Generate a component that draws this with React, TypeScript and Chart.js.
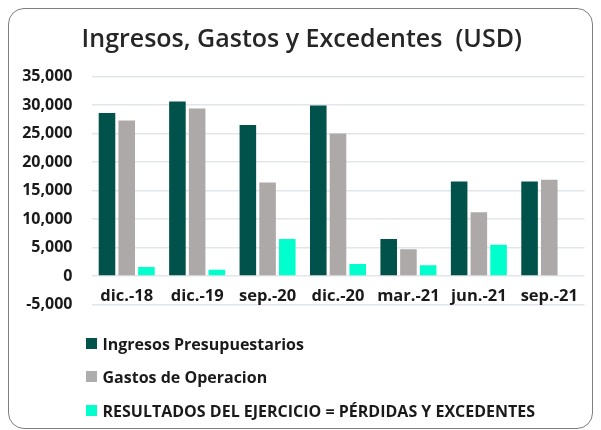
import React, { useEffect, useRef } from "react";
import { Chart, registerables } from "chart.js";

Chart.register(...registerables);

const categories = ["dic.-18", "dic.-19", "sep.-20", "dic.-20", "mar.-21", "jun.-21", "sep.-21"];
const ingresos = [28600, 30600, 26500, 29900, 6500, 16600, 16600];
const gastos = [27300, 29400, 16400, 25000, 4700, 11200, 16900];
const resultados = [1600, 1100, 6500, 2100, 1900, 5500, 0];
const seriesNames = [
  "Ingresos Presupuestarios",
  "Gastos de Operacion",
  "RESULTADOS DEL EJERCICIO = PÉRDIDAS Y EXCEDENTES",
];
const seriesColors = ["#00524A", "#ADA9A8", "#00FFCC"];
const legendColors = ["#00524A", "#ADADAD", "#00FFCC"];
const yMin = -5000;
const yMax = 35000;
const yStep = 5000;
const titleText = "Ingresos, Gastos y Excedentes  (USD)";

const FONT = "'Open Sans', Lato, sans-serif";

export default function App() {
  const canvasRef = useRef<HTMLCanvasElement | null>(null);

  useEffect(() => {
    if (!canvasRef.current) return;
    const values = [ingresos, gastos, resultados];
    const chart = new Chart(canvasRef.current, {
      type: "bar",
      data: {
        labels: categories,
        datasets: values.map((v, i) => ({
          label: seriesNames[i],
          data: v,
          backgroundColor: seriesColors[i],
          borderWidth: 0,
          categoryPercentage: 0.84,
          barPercentage: 0.84,
        })),
      },
      options: {
        responsive: false,
        animation: false,
        layout: { padding: { left: 10, right: 6.5, top: 0, bottom: 122.5 } },
        plugins: {
          legend: { display: false },
          tooltip: { enabled: false },
          title: {
            display: true,
            text: titleText,
            color: "#262626",
            font: { family: FONT, size: 25, weight: "600" },
            padding: { top: 16, bottom: 21.5 },
          },
        },
        scales: {
          x: {
            type: "category",
            position: { y: 0 } as any,
            grid: { display: false, drawTicks: false },
            border: { display: false },
            ticks: {
              color: "#1a1a1a",
              font: { family: FONT, size: 16.5, weight: "bold" },
              padding: 10,
              maxRotation: 0,
              autoSkip: false,
            },
          },
          y: {
            min: yMin,
            max: yMax,
            afterFit: (scale: any) => {
              scale.width = 72.5;
            },
            grid: { color: "#E2E5EA", lineWidth: 1.5, drawTicks: false },
            border: { display: false },
            ticks: {
              stepSize: yStep,
              color: "#1a1a1a",
              padding: 19,
              font: { family: FONT, size: 16, weight: "bold" },
              callback: (v: any) => Number(v).toLocaleString("en-US"),
            },
          },
        },
      },
    });
    return () => chart.destroy();
  }, []);

  const rowCenters = [334.5, 367.5, 401.5];

  return (
    <div
      style={{
        position: "relative",
        width: 585,
        height: 421,
        border: "1.5px solid #7f7f7f",
        borderRadius: 16,
        boxSizing: "border-box",
        background: "#fff",
        overflow: "hidden",
      }}
    >
      <canvas ref={canvasRef} width={582} height={418} style={{ display: "block" }} />
      {seriesNames.map((name, i) => (
        <div
          key={name}
          style={{
            position: "absolute",
            left: 76.5,
            top: rowCenters[i] - 10,
            height: 20,
            display: "flex",
            alignItems: "center",
            fontFamily: FONT,
            fontWeight: 700,
            fontSize: 16,
            color: "#1a1a1a",
            whiteSpace: "nowrap",
          }}
        >
          <span
            style={{
              display: "inline-block",
              width: 11,
              height: 11,
              background: legendColors[i],
              marginRight: 6,
            }}
          />
          <span>{name}</span>
        </div>
      ))}
    </div>
  );
}
